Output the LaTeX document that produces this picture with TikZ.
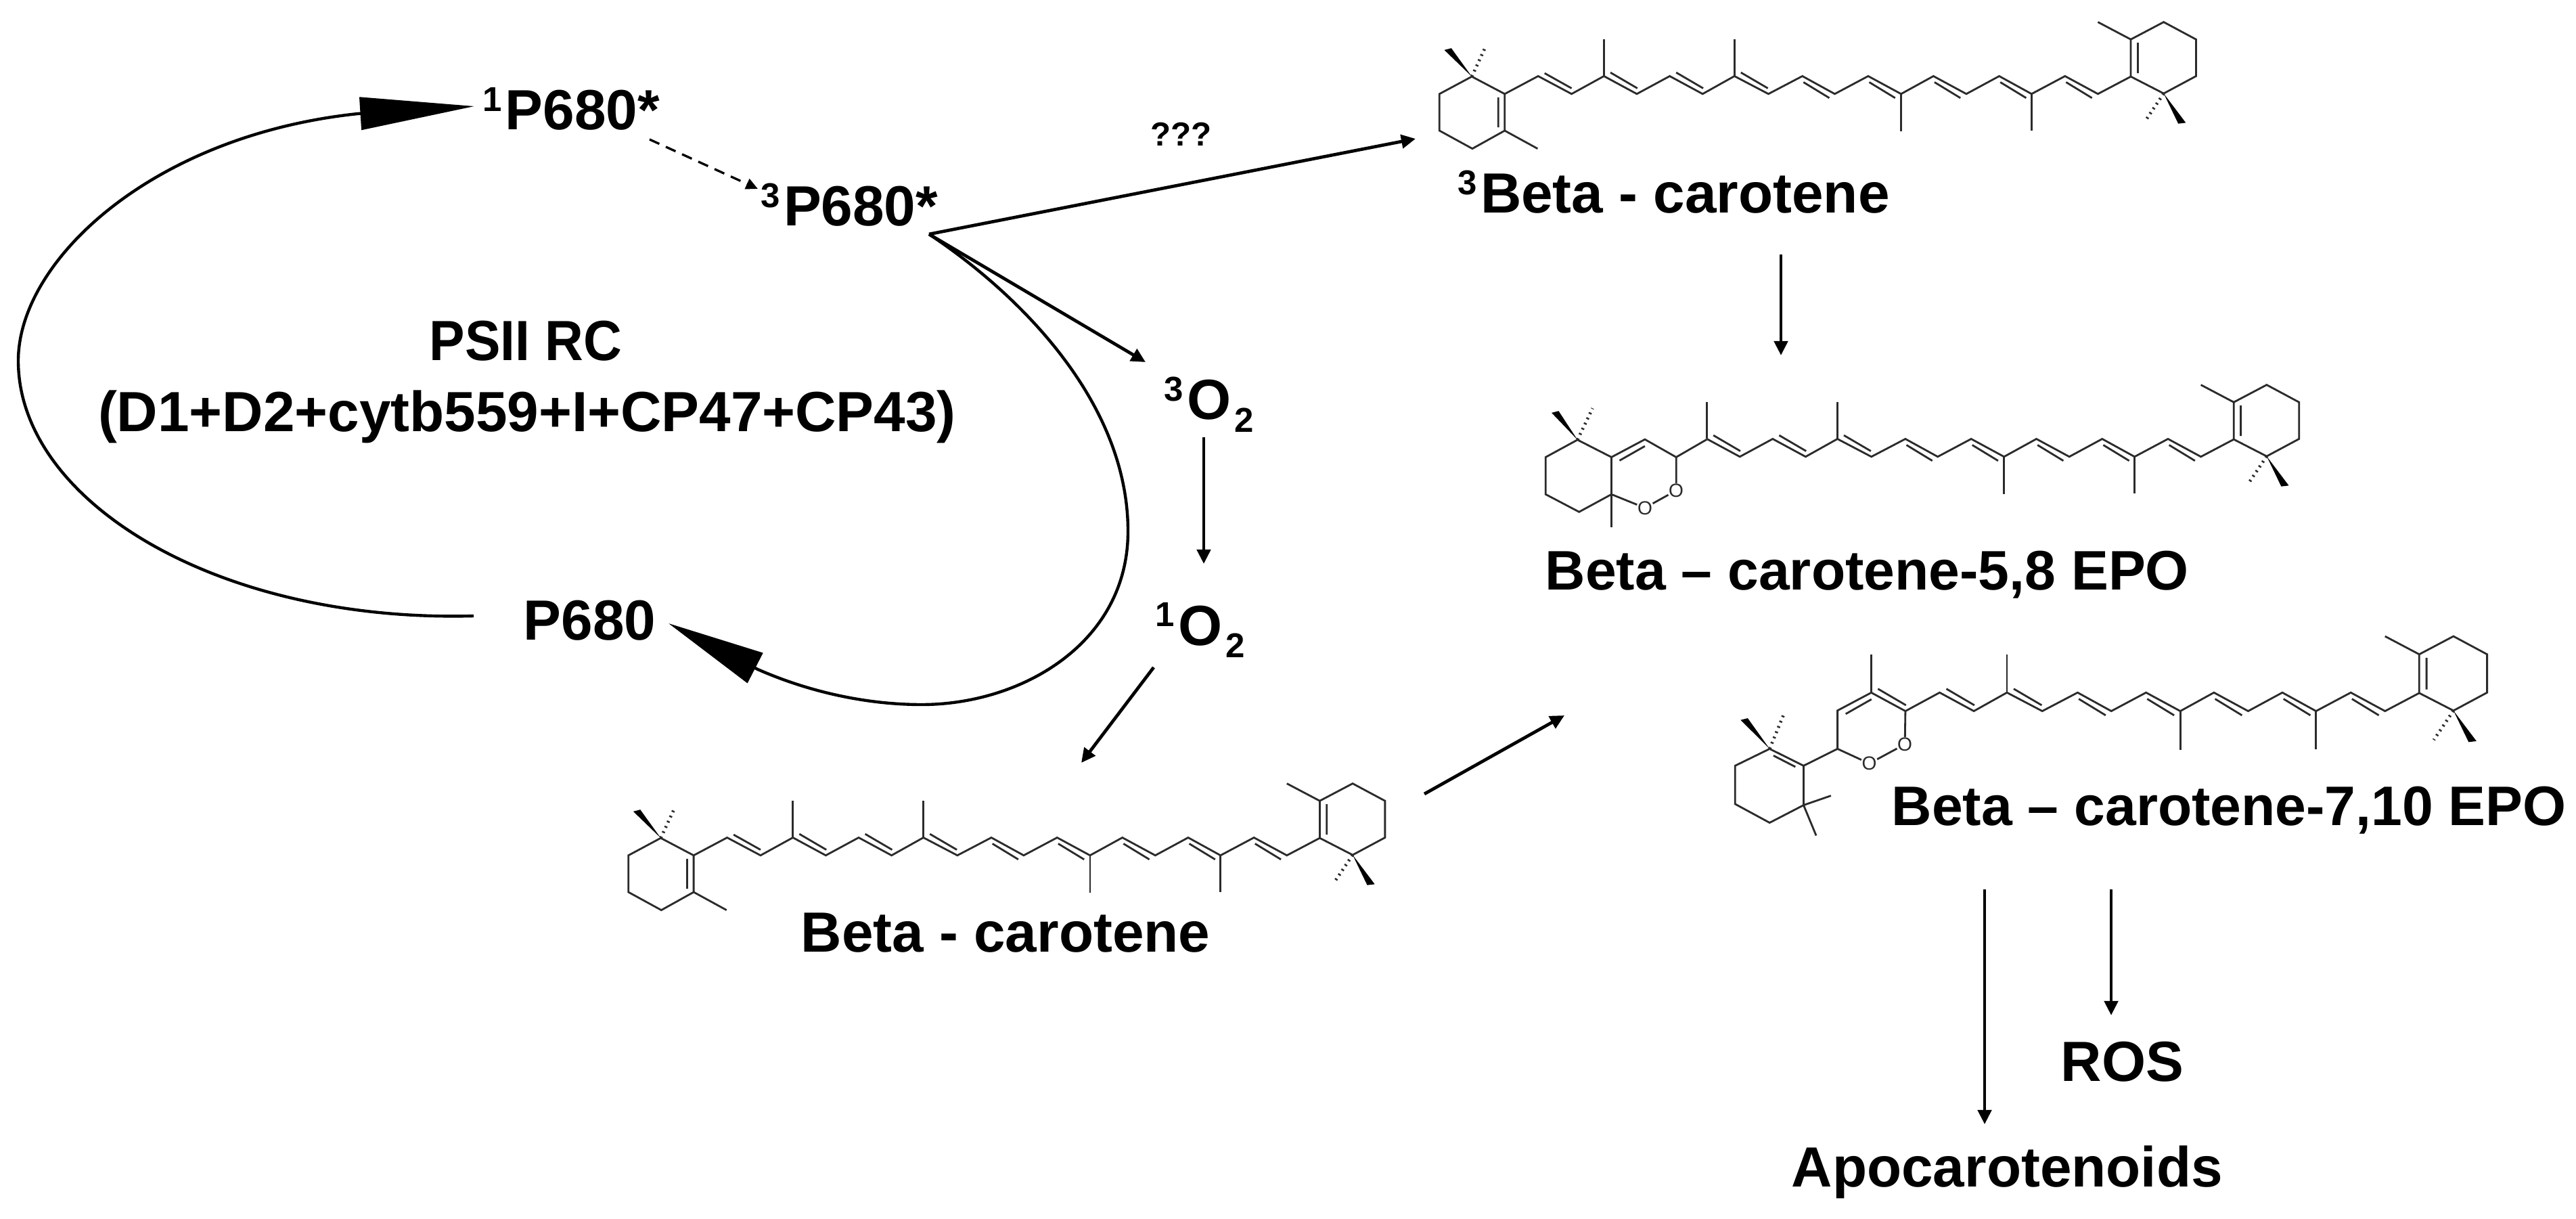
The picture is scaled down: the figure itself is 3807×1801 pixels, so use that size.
\documentclass[tikz,border=0pt]{standalone}
\usepackage{fontspec}
\setmainfont{Liberation Sans}
\usetikzlibrary{arrows.meta}
\definecolor{bondcol}{HTML}{2B2B2B}
\newcommand\supd[1]{\raisebox{7.7pt}{\fontsize{14.5}{16}\selectfont #1}\kern1.4pt}
\newcommand\subd[1]{\kern1.5pt\raisebox{-5.4pt}{\fontsize{14.5}{16}\selectfont #1}}
\tikzset{
  bond/.style={draw=bondcol,line width=0.8pt,line join=miter},
  wedgeb/.style={fill=black,draw=none},
  hashb/.style={draw=bondcol,line width=1.3pt,dash pattern=on 0.7pt off 1.7pt},
  lab/.style={font=\fontsize{23.8}{28}\selectfont\bfseries,anchor=base west,inner sep=0pt,text=black},
  labn/.style={font=\fontsize{23.4}{28}\selectfont\bfseries,anchor=base west,inner sep=0pt,text=black},
  labc/.style={font=\fontsize{23.8}{28}\selectfont\bfseries,anchor=base,inner sep=0pt,text=black},
  qlab/.style={font=\fontsize{14}{16}\selectfont\bfseries,anchor=base west,inner sep=0pt,text=black},
  oatom/.style={font=\fontsize{8}{9}\selectfont,inner sep=0pt,fill=white,text=bondcol},
  conn/.style={draw=black,line width=1.35pt,-{Triangle[length=6pt,width=5.7pt]}},
  dconn/.style={draw=black,line width=0.95pt,dash pattern=on 4.5pt off 3pt,-{Triangle[length=5pt,width=4.6pt]}},
  cycle1/.style={draw=black,line width=1.25pt,-{Triangle[length=48pt,width=13.6pt]}},
  cycle2/.style={draw=black,line width=1.25pt,-{Triangle[length=41pt,width=14pt]}},
  frameA/.style={x=0.0079719cm,y=-0.0033333cm},
  frameC/.style={x=0.0082908cm,y=-0.0034667cm},
  frameD/.style={x=0.0080802cm,y=-0.0033333cm}
}
% the chain and right ring, in the frame of the first molecule
\newcommand\ctail{%
  \draw[bond] (402,338)--(463,417)--(524,338)--(585,417)--(644,338)--(707,417)--(770,338)--(830,417)--(892,338)--(953,417)--(1013,338)--(1074,417)--(1135,338)--(1195,417)--(1257,338)--(1318,417)--(1379,340);
  \foreach \u in {402,524,644}{\draw[bond] (\u+12,322)--(\u+62,392);}
  \foreach \u in {770,892,1013,1135,1257}{\draw[bond] (\u+2,365)--(\u+50,435);}
  \draw[bond] (402,338)--(402,175) (644,338)--(644,175) (953,417)--(953,583) (1195,417)--(1195,580);
  \draw[bond] (1379,340)--(1379,175)--(1440,98)--(1500,175)--(1500,338)--(1440,415)--cycle;
  \draw[bond] (1392,190)--(1392,325) (1379,175)--(1318,98);
  \fill[wedgeb] (1440,415)--(1481,545)--(1467,549)--cycle;
  \draw[hashb] (1440,415)--(1405,540);
}
% the plain left ring, also in that frame
\newcommand\chead{%
  \draw[bond] (157,340)--(218,417)--(218,580)--(158,660)--(97,580)--(97,417)--cycle;
  \draw[bond] (206,432)--(206,565) (218,580)--(279,660);
  \draw[bond] (218,417)--(280,338)--(342,417)--(402,338);
  \draw[bond] (292,325)--(342,392);
  \fill[wedgeb] (157,340)--(106,222)--(119,214)--cycle;
  \draw[hashb] (157,340)--(183,205);
}
\begin{document}
\begin{tikzpicture}[x=0.01cm,y=-0.01cm]
\useasboundingbox[fill=white] (0,0) rectangle (3807,1801);

% molecule: triplet beta-carotene
\begin{scope}[shift={(2050,0)},frameA]
  \chead \ctail
\end{scope}
% molecule: beta-carotene
\begin{scope}[shift={(851.4,1125)},frameA]
  \chead \ctail
\end{scope}
% molecule: 5,8 EPO
\begin{scope}[shift={(2202.2,536)},frameA]
  \ctail
\end{scope}
\begin{scope}[shift={(2250,540)},frameA]
  \draw[bond] (102,330)--(165,407)--(165,572)--(105,650)--(43,572)--(43,407)--cycle;
  \draw[bond] (165,407)--(227,328)--(285,407)--(342,328);
  \draw[bond] (180,422)--(227,358);
  \draw[bond] (165,572)--(165,718);
  \fill[wedgeb] (102,330)--(54,210)--(67,202)--cycle;
  \draw[hashb] (102,330)--(130,190);
  \node[oatom] (oa) at (285,555) {O};
  \node[oatom] (ob) at (227,632) {O};
  \draw[bond] (285,407)--(oa) (oa)--(ob) (ob)--(165,572);
\end{scope}
% molecule: 7,10 EPO
\begin{scope}[shift={(2432.1,906.1)},frameC]
  \ctail
\end{scope}
\begin{scope}[shift={(2540,920)},frameD]
  \draw[bond] (279,310)--(217,390)--(217,560)--(155,635);
  \draw[bond] (232,405)--(279,340);
  \draw[bond] (93,560)--(155,635)--(155,810)--(93,888)--(30,805)--(30,635)--cycle;
  \draw[bond] (100,590)--(140,640);
  \draw[bond] (155,810)--(205,768) (155,810)--(178,945);
  \fill[wedgeb] (93,560)--(40,432)--(53,424)--cycle;
  \draw[hashb] (93,560)--(118,412);
  \node[oatom] (oc) at (340,540) {O};
  \node[oatom] (od) at (275,625) {O};
  \draw[bond] (341,390)--(oc) (oc)--(od) (od)--(217,560);
\end{scope}

% labels
\node[lab] (p1s) at (713,192) {\supd{1}P680*};
\node[lab] (p3s) at (1124,334) {\supd{3}P680*};
\node[lab] (p0) at (773,945) {P680};
\node[labc] (rc1) at (777,533) {\scalebox{0.94}[1]{PSII RC}};
\node[labc] (rc2) at (779,638) {(D1+D2+cytb559+I+CP47+CP43)};
\node[lab] (o3) at (1720,620) {\supd{3}O\subd{2}};
\node[lab] (o1) at (1707,953) {\supd{1}O\subd{2}};
\node[qlab] (qq) at (1700,216) {???};
\node[lab] (tb) at (2154,315) {\supd{3}Beta - carotene};
\node[lab] (bc) at (1183,1406) {Beta - carotene};
\node[labn] (e58) at (2283,871) {Beta – carotene-5,8 EPO};
\node[labn] (e710) at (2795,1219) {Beta – carotene-7,10 EPO};
\node[lab] (ros) at (3045,1597) {ROS};
\node[lab] (apo) at (2647,1753) {Apocarotenoids};

% connector ends
\coordinate (p0w) at (700,910);
\coordinate (p1w) at (701,157);
\coordinate (p3o) at (1373,346);
\coordinate (p0e) at (988,921);
\coordinate (d0) at (960,206);
\coordinate (d1) at (1120,279);
\coordinate (tbw) at (2092,205);
\coordinate (o3n) at (1693,535);
\coordinate (o3s) at (1779,646);
\coordinate (o1n) at (1779,833);
\coordinate (o1s) at (1705,986);
\coordinate (bcn) at (1598,1127);
\coordinate (bce) at (2105,1173);
\coordinate (epow) at (2312,1057);
\coordinate (tbs) at (2632,376);
\coordinate (e58n) at (2632,525);
\coordinate (e1a) at (2933,1314);
\coordinate (apon) at (2933,1661);
\coordinate (e1b) at (3120,1314);
\coordinate (rosn) at (3120,1500);

% connectors
\draw[cycle1] (p0w) .. controls (320,920) and (27,740) .. (27,533)
   .. controls (27,385) and (225,200) .. (529,168) -- (p1w);
\draw[cycle2] (p3o) .. controls (1500,430) and (1667,590) .. (1667,785)
   .. controls (1667,950) and (1510,1041) .. (1362,1041)
   .. controls (1280,1041) and (1195,1022) .. (1120,989) -- (p0e);
\draw[dconn] (d0)--(d1);
\draw[conn] (p3o)--(tbw);
\draw[conn] (p3o)--(o3n);
\draw[conn] (o3s)--(o1n);
\draw[conn] (o1s)--(bcn);
\draw[conn] (bce)--(epow);
\draw[conn] (tbs)--(e58n);
\draw[conn] (e1a)--(apon);
\draw[conn] (e1b)--(rosn);
\end{tikzpicture}
\end{document}
